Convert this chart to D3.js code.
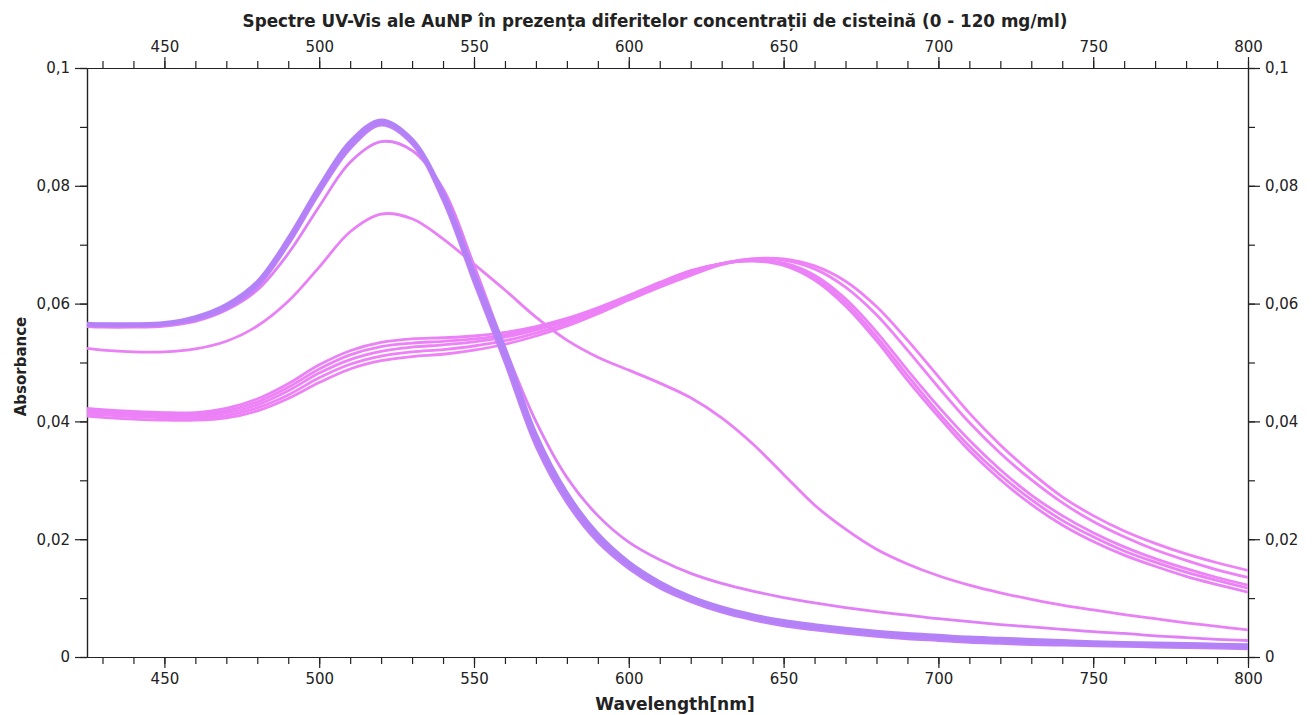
<!DOCTYPE html>
<html><head><meta charset="utf-8">
<script src="https://cdn.jsdelivr.net/npm/d3@7"></script>
<style>
html,body{margin:0;padding:0;background:#fff;}
svg{display:block;}
text{font-family:"DejaVu Sans",Verdana,sans-serif;fill:#222;}
</style></head>
<body>
<script>
const wavelengths = [425,430,440,450,460,470,480,490,500,510,520,530,540,550,560,570,580,590,600,610,620,630,640,650,660,670,680,690,700,710,720,730,740,750,760,770,780,790,800];

const a1 = [.0567,.0566,.0566,.0568,.0578,.0599,.0638,.0712,.0800,.0876,.0912,.0880,.0790,.0655,.0525,.0380,.0280,.0210,.0162,.0128,.0103,.0085,.0072,.0062,.0055,.0049,.0044,.0040,.0037,.0034,.0032,.0030,.0028,.0026,.0025,.0024,.0023,.0022,.0021];
const a2 = [.0566,.0565,.0565,.0567,.0576,.0597,.0635,.0708,.0795,.0871,.0909,.0877,.0785,.0648,.0515,.0372,.0274,.0205,.0158,.0124,.0100,.0082,.0069,.0059,.0052,.0046,.0041,.0037,.0034,.0031,.0029,.0027,.0025,.0023,.0022,.0021,.0020,.0019,.0018];
const a3 = [.0564,.0564,.0563,.0565,.0574,.0594,.0632,.0704,.0791,.0867,.0906,.0874,.0780,.0642,.0507,.0365,.0268,.0200,.0154,.0120,.0097,.0079,.0066,.0056,.0049,.0043,.0038,.0034,.0031,.0028,.0026,.0024,.0022,.0021,.0020,.0019,.0018,.0017,.0016];
const a4 = [.0563,.0562,.0562,.0564,.0572,.0591,.0628,.0700,.0787,.0863,.0903,.0871,.0775,.0636,.0500,.0358,.0262,.0195,.0150,.0117,.0094,.0076,.0063,.0053,.0046,.0040,.0035,.0031,.0028,.0025,.0023,.0021,.0020,.0019,.0018,.0017,.0016,.0015,.0014];
const c2 = [.0561,.0560,.0560,.0562,.0570,.0589,.0623,.0685,.0765,.0840,.0875,.0860,.0795,.0665,.0525,.0400,.0305,.0240,.0195,.0165,.0142,.0125,.0112,.0101,.0092,.0084,.0077,.0071,.0065,.0060,.0055,.0051,.0047,.0043,.0040,.0036,.0033,.0030,.0028];
const c3 = [.0524,.0521,.0518,.0518,.0523,.0536,.0562,.0604,.0662,.0722,.0752,.0744,.0710,.0667,.0623,.0577,.0538,.0509,.0487,.0465,.0440,.0406,.0362,.0310,.0258,.0217,.0183,.0158,.0138,.0122,.0109,.0098,.0088,.0080,.0072,.0065,.0058,.0052,.0046];
const b1 = [.0409,.0407,.0404,.0402,.0402,.0406,.0418,.0439,.0466,.0489,.0503,.0510,.0514,.0521,.0531,.0545,.0562,.0583,.0606,.0628,.0648,.0666,.0676,.0676,.0664,.0638,.0595,.0538,.0476,.0414,.0360,.0313,.0272,.0240,.0214,.0193,.0175,.0160,.0147];
const b2 = [.0413,.0411,.0408,.0406,.0406,.0410,.0423,.0445,.0474,.0497,.0511,.0518,.0522,.0528,.0537,.0550,.0566,.0586,.0608,.0630,.0652,.0668,.0676,.0674,.0659,.0628,.0581,.0521,.0458,.0398,.0346,.0301,.0262,.0230,.0204,.0182,.0164,.0148,.0135];
const b3 = [.0416,.0414,.0411,.0409,.0409,.0414,.0428,.0452,.0482,.0505,.0519,.0526,.0530,.0535,.0543,.0555,.0570,.0589,.0610,.0632,.0654,.0668,.0674,.0669,.0648,.0608,.0552,.0487,.0425,.0368,.0318,.0275,.0240,.0211,.0187,.0167,.0150,.0135,.0122];
const b4 = [.0419,.0417,.0414,.0412,.0412,.0418,.0433,.0458,.0489,.0513,.0527,.0533,.0536,.0540,.0547,.0558,.0573,.0591,.0612,.0634,.0655,.0668,.0673,.0667,.0644,.0602,.0544,.0478,.0415,.0358,.0309,.0267,.0232,.0204,.0180,.0161,.0144,.0130,.0117];
const b5 = [.0422,.0420,.0417,.0415,.0415,.0422,.0438,.0464,.0496,.0520,.0534,.0540,.0542,.0545,.0551,.0561,.0575,.0593,.0614,.0636,.0656,.0668,.0672,.0665,.0640,.0596,.0537,.0470,.0408,.0350,.0301,.0259,.0224,.0196,.0173,.0154,.0137,.0123,.0110];

const xTicks = [450,500,550,600,650,700,750,800];
const yTicks = [0,0.02,0.04,0.06,0.08,0.1];
const yTickLabels = ["0","0,02","0,04","0,06","0,08","0,1"];
const titleText = "Spectre UV-Vis ale AuNP în prezența diferitelor concentrații de cisteină (0 - 120 mg/ml)";
const xLabel = "Wavelength[nm]";
const yLabel = "Absorbance";

// draw order: pink first, purple on top
const seriesList = [b1,b2,b3,b4,b5,c3,c2,a4,a3,a2,a1];
const seriesColors = ["#ef81f7","#ee81f7","#ed81f7","#ec81f7","#eb81f7","#e980f6","#e07ff6","#c080f7","#b681f7","#b481f7","#b382f7"];

const W = 1315, H = 715;
const m = {left:87, right:67, top:68, bottom:58};
const svg = d3.select("body").append("svg").attr("width",W).attr("height",H);

const x = d3.scaleLinear().domain([425,800]).range([m.left, W-m.right]);
const y = d3.scaleLinear().domain([0,0.1]).range([H-m.bottom, m.top]);

const minorX = d3.range(430,801,10);
const minorY = d3.range(0,0.1001,0.01);

const fmtY = d => yTickLabels[yTicks.findIndex(t => Math.abs(t-d)<1e-9)] ?? "";

function styleAxis(g){
  g.selectAll("path.domain").attr("stroke","#222").attr("stroke-width",1.2);
  g.selectAll(".tick line").attr("stroke","#222").attr("stroke-width",1.2);
  g.selectAll(".tick text").style("font-size","15px").attr("fill","#222");
}

// minor ticks
const gMinB = svg.append("g").attr("transform",`translate(0,${H-m.bottom})`)
  .call(d3.axisBottom(x).tickValues(minorX).tickSize(7).tickFormat("").tickSizeOuter(0));
const gMinT = svg.append("g").attr("transform",`translate(0,${m.top})`)
  .call(d3.axisTop(x).tickValues(minorX).tickSize(7).tickFormat("").tickSizeOuter(0));
const gMinL = svg.append("g").attr("transform",`translate(${m.left},0)`)
  .call(d3.axisLeft(y).tickValues(minorY).tickSize(7).tickFormat("").tickSizeOuter(0));
const gMinR = svg.append("g").attr("transform",`translate(${W-m.right},0)`)
  .call(d3.axisRight(y).tickValues(minorY).tickSize(7).tickFormat("").tickSizeOuter(0));
[gMinB,gMinT,gMinL,gMinR].forEach(styleAxis);

// major
const gB = svg.append("g").attr("transform",`translate(0,${H-m.bottom})`)
  .call(d3.axisBottom(x).tickValues(xTicks).tickSize(11).tickPadding(5).tickSizeOuter(0));
const gT = svg.append("g").attr("transform",`translate(0,${m.top})`)
  .call(d3.axisTop(x).tickValues(xTicks).tickSize(11).tickPadding(5).tickSizeOuter(0));
const gL = svg.append("g").attr("transform",`translate(${m.left},0)`)
  .call(d3.axisLeft(y).tickValues(yTicks).tickFormat(fmtY).tickSize(12).tickPadding(5).tickSizeOuter(0));
const gR = svg.append("g").attr("transform",`translate(${W-m.right},0)`)
  .call(d3.axisRight(y).tickValues(yTicks).tickFormat(fmtY).tickSize(12).tickPadding(5).tickSizeOuter(0));
[gB,gT,gL,gR].forEach(styleAxis);

// clip
svg.append("clipPath").attr("id","clip").append("rect")
  .attr("x",m.left).attr("y",m.top).attr("width",W-m.left-m.right).attr("height",H-m.top-m.bottom);

const line = d3.line().x((d,i)=>x(wavelengths[i])).y(d=>y(d)).curve(d3.curveCatmullRom.alpha(0.5));
const gLines = svg.append("g").attr("clip-path","url(#clip)");
seriesList.forEach((s,i)=>{
  gLines.append("path").attr("d",line(s)).attr("fill","none")
    .attr("stroke",seriesColors[i]).attr("stroke-width",2.8).attr("stroke-linejoin","round");
});

// title and labels
svg.append("text").attr("x",655).attr("y",27).attr("text-anchor","middle")
  .style("font-size","16.8px").style("font-weight","bold").text(titleText);
svg.append("text").attr("x",675).attr("y",710).attr("text-anchor","middle")
  .style("font-size","17px").style("font-weight","bold").text(xLabel);
svg.append("text").attr("transform",`translate(26,${(m.top+H-m.bottom)/2+4}) rotate(-90)`).attr("text-anchor","middle")
  .style("font-size","15px").style("font-weight","bold").text(yLabel);
</script>
</body></html>
